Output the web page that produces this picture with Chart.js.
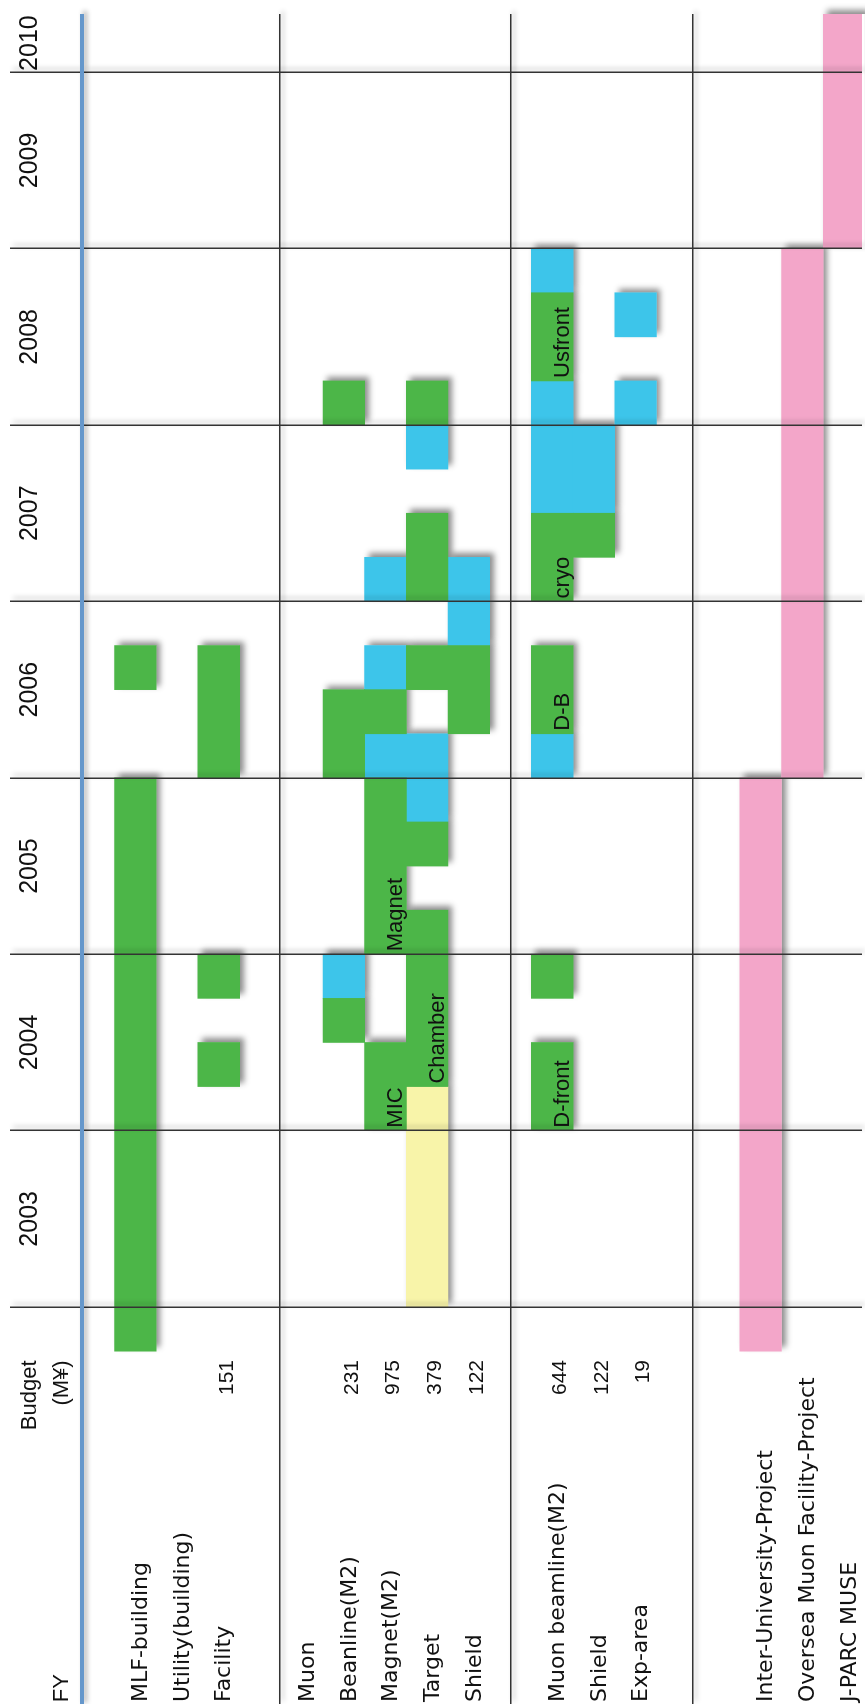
<!DOCTYPE html>
<html>
<head>
<meta charset="utf-8">
<title>Muon facility schedule</title>
<script src="https://cdn.jsdelivr.net/npm/chart.js@4.4.1/dist/chart.umd.min.js"></script>
<style>
  html, body { margin: 0; padding: 0; background: #fff; }
  body { width: 865px; height: 1704px; overflow: hidden; position: relative; }
  /* the chart is drawn landscape and turned a quarter turn, like the original slide */
  #wrap { position: absolute; left: 0; top: 0; width: 1704px; height: 865px;
          transform-origin: 0 0; transform: translateY(1704px) rotate(-90deg); }
</style>
</head>
<body>
<div id="wrap"><canvas id="chart" width="1704" height="865"></canvas></div>
<script>
// rows, top to bottom of the landscape chart (left to right on the page)
const rowLabels = [
  "MLF-building", "Utility(building)", "Facility", "",
  "Muon", "Beanline(M2)", "Magnet(M2)", "Target", "Shield", "",
  "Muon beamline(M2)", "Shield", "Exp-area", "", "",
  "Inter-University-Project", "Oversea Muon Facility-Project", "J-PARC MUSE",
];
const budgets = [null, null, 151, null, null, 231, 975, 379, 122, null, 644, 122, 19, null, null, null, null, null];

// fiscal years
const yearLines = [2003, 2004, 2005, 2006, 2007, 2008, 2009, 2010];
const yearNames = ["2003", "2004", "2005", "2006", "2007", "2008", "2009", "2010"];
const headerTicks = [
  { value: 2000.84, text: ["", "FY"] },
  { value: 2002.50, text: ["Budget", ""] },
  { value: 2002.57, text: ["", "(M¥)"] },
];
const separatorRows = [3.47, 9.0, 13.38];

// schedule blocks: row index, [from, to] in fiscal years (quarters)
const greenBars = [
  { y: 0, x: [2002.75, 2006] }, { y: 0, x: [2006.5, 2006.75] },
  { y: 2, x: [2004.25, 2004.5] }, { y: 2, x: [2004.75, 2005] }, { y: 2, x: [2006, 2006.75] },
  { y: 5, x: [2004.5, 2004.75] }, { y: 5, x: [2006, 2006.5] }, { y: 5, x: [2008, 2008.25] },
  { y: 6, x: [2004, 2004.5], note: "MIC" }, { y: 6, x: [2005, 2006], note: "Magnet" }, { y: 6, x: [2006.25, 2006.5] },
  { y: 7, x: [2004.25, 2005.25], note: "Chamber" }, { y: 7, x: [2005.5, 2005.75] }, { y: 7, x: [2006.5, 2006.75] },
  { y: 7, x: [2007, 2007.5] }, { y: 7, x: [2008, 2008.25] },
  { y: 8, x: [2006.25, 2006.75] },
  { y: 10, x: [2004, 2004.5], note: "D-front" }, { y: 10, x: [2004.75, 2005] }, { y: 10, x: [2006.25, 2006.75], note: "D-B" },
  { y: 10, x: [2007, 2007.5], note: "cryo" }, { y: 10, x: [2008.25, 2008.75], note: "Usfront" },
  { y: 11, x: [2007.25, 2007.5] },
];
const blueBars = [
  { y: 5, x: [2004.75, 2005] },
  { y: 6, x: [2006, 2006.25] }, { y: 6, x: [2006.5, 2006.75] }, { y: 6, x: [2007, 2007.25] },
  { y: 7, x: [2005.75, 2006.25] }, { y: 7, x: [2007.75, 2008] },
  { y: 8, x: [2006.75, 2007.25] },
  { y: 10, x: [2006, 2006.25] }, { y: 10, x: [2007.5, 2008.25] }, { y: 10, x: [2008.75, 2009] },
  { y: 11, x: [2007.5, 2008] },
  { y: 12, x: [2008, 2008.25] }, { y: 12, x: [2008.5, 2008.75] },
];
const yellowBars = [
  { y: 7, x: [2003, 2004.25] },
];
const pinkBars = [
  { y: 15, x: [2002.75, 2006] }, { y: 16, x: [2006, 2009] }, { y: 17, x: [2009, 2010.33] },
];

const X_MIN = 2000.75, X_MAX = 2010.33;
const ROW_MIN = -1.28, ROW_MAX = 17.43;

const LINE = "#333333";
const AXIS_BLUE = "#6597cb";
const FONT_SANS = '"Liberation Sans", Arial, sans-serif';
const FONT_WIDE = '"DejaVu Sans", sans-serif';

function xTicks() {
  const ticks = yearLines.map(v => ({ value: v, line: true, text: "" }));
  const bounds = [...yearLines, X_MAX];
  yearNames.forEach((name, i) => {
    ticks.push({ value: (bounds[i] + bounds[i + 1]) / 2, year: true, text: [name, ""] });
  });
  headerTicks.forEach(h => ticks.push({ value: h.value, text: h.text }));
  return ticks.sort((a, b) => a.value - b.value);
}

function barSet(data, color) {
  return {
    data, backgroundColor: color, borderWidth: 0, grouped: false,
    categoryPercentage: 1, barPercentage: 1, yAxisID: "rows",
  };
}

// shared settings of the three row axes (rows, separators, budget)
function rowAxis(extra) {
  return Object.assign({
    type: "linear", reverse: true, min: ROW_MIN, max: ROW_MAX,
    offset: false, border: { display: false },
    afterFit: s => { s.width = 0; },
  }, extra);
}

// soft drop shadow under the blocks (drawn once, then covered by the blocks)
const blockShadow = {
  id: "blockShadow",
  beforeDatasetsDraw(chart) {
    const ctx = chart.ctx;
    ctx.save();
    ctx.shadowColor = "rgba(0,0,0,0.45)";
    ctx.shadowBlur = 6;
    ctx.shadowOffsetX = 4;
    ctx.shadowOffsetY = 4;
    ctx.fillStyle = "#fff";
    chart.getSortedVisibleDatasetMetas().forEach(meta => {
      meta.data.forEach(el => {
        const { x, y, base, height } = el.getProps(["x", "y", "base", "height"], true);
        ctx.fillRect(Math.min(x, base), y - height / 2, Math.abs(x - base), height);
      });
    });
    ctx.restore();
  },
  afterDatasetsDraw(chart) {
    const ctx = chart.ctx;
    ctx.save();
    ctx.font = "22px " + FONT_SANS;
    ctx.fillStyle = "#111";
    ctx.textAlign = "left";
    ctx.textBaseline = "alphabetic";
    chart.data.datasets.forEach((ds, di) => {
      chart.getDatasetMeta(di).data.forEach((el, i) => {
        const note = ds.data[i].note;
        if (!note) return;
        const { x, y, base, height } = el.getProps(["x", "y", "base", "height"], true);
        ctx.fillText(note, Math.min(x, base) + 3, y + height / 2 - 4);
      });
    });
    ctx.restore();
    // grid layers drawn after this point get the same soft shadow
    ctx.shadowColor = "rgba(0,0,0,0.3)";
    ctx.shadowBlur = 5;
    ctx.shadowOffsetX = 3;
    ctx.shadowOffsetY = 3;
  },
  afterDraw(chart) {
    const ctx = chart.ctx;
    ctx.shadowColor = "rgba(0,0,0,0)";
    ctx.shadowBlur = 0;
    ctx.shadowOffsetX = 0;
    ctx.shadowOffsetY = 0;
  },
};

new Chart(document.getElementById("chart"), {
  type: "bar",
  data: {
    datasets: [
      barSet(greenBars, "#4cb648"),
      barSet(blueBars, "#3dc5ea"),
      barSet(yellowBars, "#f8f4a9"),
      barSet(pinkBars, "#f3a6c9"),
    ],
  },
  options: {
    indexAxis: "y",
    responsive: false,
    animation: false,
    devicePixelRatio: 1,
    layout: { autoPadding: false, padding: { top: 0, right: 14, bottom: 0, left: 0 } },
    plugins: { legend: { display: false }, tooltip: { enabled: false } },
    scales: {
      x: {
        type: "linear", position: "top", min: X_MIN, max: X_MAX,
        afterBuildTicks: s => { s.ticks = xTicks(); },
        afterFit: s => { s.height = 82; },
        grid: {
          z: 1,
          color: c => (c.tick && c.tick.line ? LINE : "rgba(0,0,0,0)"),
          tickColor: c => (c.tick && c.tick.line ? LINE : "rgba(0,0,0,0)"),
          lineWidth: c => (c.tick && c.tick.line ? 1.5 : 0),
          tickLength: 72,
        },
        border: { display: true, color: AXIS_BLUE, width: 4, z: 1 },
        ticks: {
          autoSkip: false, maxRotation: 0, minRotation: 0, padding: -68, color: "#111",
          font: c => (c.tick && c.tick.year
            ? { family: FONT_SANS, size: 25, lineHeight: "32px" }
            : { family: FONT_SANS, size: 22, lineHeight: "32px" }),
          callback: (v, i, ticks) => ticks[i].text,
        },
      },
      rows: rowAxis({
        position: "left",
        afterBuildTicks: s => {
          s.ticks = rowLabels.map((t, i) => ({ value: i })).filter(t => rowLabels[t.value]);
        },
        grid: { display: false, offset: false },
        ticks: {
          mirror: true, padding: 2, autoSkip: false, labelOffset: 6, color: "#111",
          font: { family: FONT_WIDE, size: 22, lineHeight: "2px" },
          callback: v => rowLabels[v],
        },
      }),
      sep: rowAxis({
        position: "left",
        afterBuildTicks: s => { s.ticks = separatorRows.map(v => ({ value: v })); },
        grid: { z: 1, offset: false, color: LINE, lineWidth: 1.5, drawTicks: false },
        ticks: { display: false, padding: 0 },
      }),
      budget: rowAxis({
        position: "right",
        afterBuildTicks: s => {
          s.ticks = budgets.map((b, i) => ({ value: i })).filter(t => budgets[t.value] != null);
        },
        grid: { display: false, offset: false },
        ticks: {
          mirror: true, crossAlign: "near", padding: -1346, autoSkip: false, labelOffset: 8, color: "#111",
          font: { family: FONT_SANS, size: 21 },
          callback: v => String(budgets[v]),
        },
      }),
    },
  },
  plugins: [blockShadow],
});
</script>
</body>
</html>
